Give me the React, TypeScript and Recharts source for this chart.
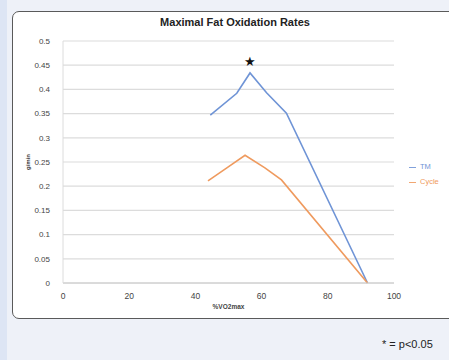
import React from 'react';
import { LineChart, Line, XAxis, YAxis, CartesianGrid, Legend, ReferenceDot } from 'recharts';

const tmX = [44.5, 52.5, 56.5, 61.5, 67.5, 92];
const tmY = [0.347, 0.392, 0.434, 0.393, 0.351, 0];
const cycleX = [43.8, 49.5, 55, 61, 66, 92];
const cycleY = [0.211, 0.238, 0.264, 0.238, 0.213, 0];
const xTicks = [0, 20, 40, 60, 80, 100];
const yTicks = [0, 0.05, 0.1, 0.15, 0.2, 0.25, 0.3, 0.35, 0.4, 0.45, 0.5];
const seriesNames = ['TM', 'Cycle'];
const starPoint = { x: 56.5, y: 0.458 };

const tmData = tmX.map((x, i) => ({ x, y: tmY[i] }));
const cycleData = cycleX.map((x, i) => ({ x, y: cycleY[i] }));

const font = 'Liberation Sans, Arial, sans-serif';

export default function App() {
  return (
    <div style={{ position: 'absolute', left: 0, top: 0, width: 449, height: 360, background: '#eef1f8', overflow: 'hidden', fontFamily: font }}>
      <div style={{ position: 'absolute', left: 0, top: 0, width: 7, height: 360, background: '#dde5f4' }} />
      <div style={{ position: 'absolute', left: 12, top: 11, width: 460, height: 306, background: '#ffffff', border: '1.5px solid #5a5a5a', borderRadius: 7 }} />
      <div style={{ position: 'absolute', left: 100, top: 16, width: 270, textAlign: 'center', fontSize: 11, fontWeight: 'bold', color: '#222' }}>Maximal Fat Oxidation Rates</div>
      <div style={{ position: 'absolute', left: 0, top: 0 }}>
        <LineChart width={449} height={360} margin={{ top: 41, right: 55, bottom: 47, left: 22 }}>
          <CartesianGrid horizontal={true} vertical={false} stroke="#dcdcdc" strokeWidth={1.2} />
          <XAxis
            type="number"
            dataKey="x"
            domain={[0, 100]}
            ticks={xTicks}
            tickLine={false}
            axisLine={{ stroke: '#c8c8c8' }}
            tick={{ fontSize: 8.5, fill: '#444', fontFamily: font }}
            tickMargin={4}
            height={30}
            label={{ value: '%VO2max', position: 'insideBottom', offset: 4, style: { fontSize: 6.5, fontWeight: 'bold', fill: '#444', fontFamily: font } }}
          />
          <YAxis
            type="number"
            dataKey="y"
            domain={[0, 0.5]}
            ticks={yTicks}
            interval={0}
            tickLine={false}
            axisLine={{ stroke: '#dcdcdc' }}
            tick={{ fontSize: 8, fill: '#444', fontFamily: font }}
            tickMargin={7}
            width={41}
            label={{ value: 'g/min', angle: -90, position: 'insideLeft', offset: 6, style: { fontSize: 6, fontWeight: 'bold', fill: '#333', textAnchor: 'middle', fontFamily: font } }}
          />
          <Legend
            layout="vertical"
            align="center"
            verticalAlign="middle"
            iconType="plainline"
            iconSize={7}
            itemSorter={(item: any) => seriesNames.indexOf(item.value)}
            wrapperStyle={{ left: 409, top: 159, width: 60, fontSize: 7.5, fontFamily: font, color: '#444', lineHeight: '15px' }}
          />
          <Line data={tmData} dataKey="y" name={seriesNames[0]} stroke="#6f94d6" strokeWidth={1.6} dot={false} isAnimationActive={false} />
          <Line data={cycleData} dataKey="y" name={seriesNames[1]} stroke="#ef9a5e" strokeWidth={1.6} dot={false} isAnimationActive={false} />
          <ReferenceDot x={starPoint.x} y={starPoint.y} r={0} label={{ value: '★', position: 'center', style: { fontSize: 13, fill: '#111' } }} />
        </LineChart>
      </div>
      <div style={{ position: 'absolute', left: 382, top: 338, fontSize: 11, color: '#222', whiteSpace: 'nowrap' }}>* = p&lt;0.05</div>
    </div>
  );
}
